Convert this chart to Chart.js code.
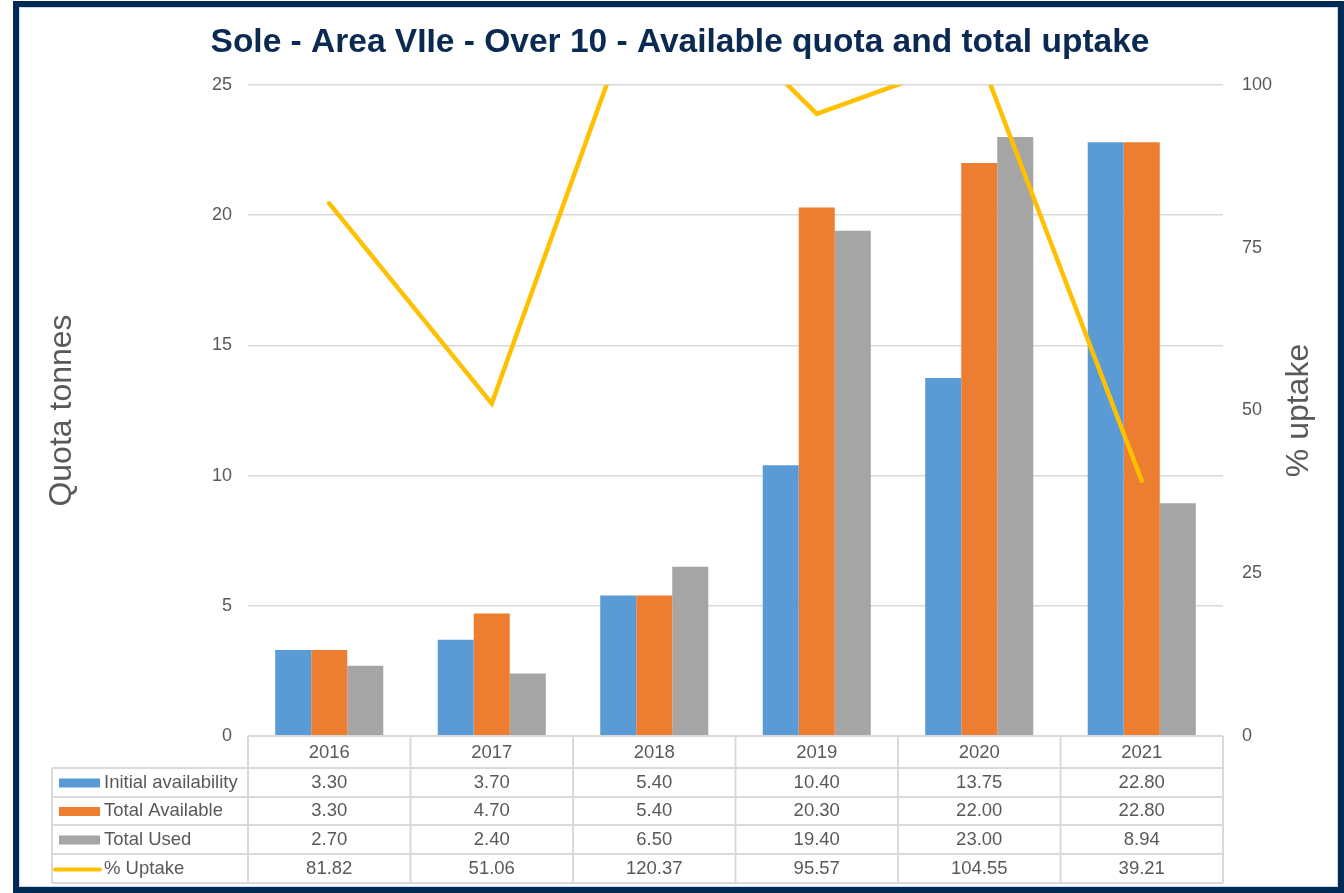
<!DOCTYPE html>
<html>
<head>
<meta charset="utf-8">
<script src="https://cdn.jsdelivr.net/npm/chart.js@4"></script>
<style>
  html, body { margin: 0; padding: 0; background: #ffffff; }
  #wrap { position: relative; width: 1344px; height: 893px; overflow: hidden; }
  #c { position: absolute; left: 0; top: 0; }
  #frame { position: absolute; left: 13px; top: 1px; width: 1319px; height: 880px;
           border: 6px solid #022a54; pointer-events: none; }
  #frame2 { position: absolute; left: 19px; top: 7px; width: 1317px; height: 878px;
           border: 1px solid #c9dcef; pointer-events: none; }
</style>
</head>
<body>
<div id="wrap">
  <canvas id="c" width="1344" height="893"></canvas>
  <div id="frame2"></div>
  <div id="frame"></div>
</div>
<script>
const titleText = 'Sole - Area VIIe - Over 10 - Available quota and total uptake';
const categories = ['2016', '2017', '2018', '2019', '2020', '2021'];
const initialAvailability = [3.30, 3.70, 5.40, 10.40, 13.75, 22.80];
const totalAvailable = [3.30, 4.70, 5.40, 20.30, 22.00, 22.80];
const totalUsed = [2.70, 2.40, 6.50, 19.40, 23.00, 8.94];
const pctUptake = [81.82, 51.06, 120.37, 95.57, 104.55, 39.21];
const seriesNames = ['Initial availability', 'Total Available', 'Total Used', '% Uptake'];
const leftTicks = [0, 5, 10, 15, 20, 25];
const rightTicks = [0, 25, 50, 75, 100];
const leftTitle = 'Quota tonnes';
const rightTitle = '% uptake';

const colors = ['#5b9bd5', '#ed7d31', '#a5a5a5', '#ffc000'];
const textGray = '#595959';
const gridGray = '#d9d9d9';
const FONT = '"Liberation Sans", Arial, sans-serif';

const tablePlugin = {
  id: 'tablePlugin',
  afterDraw(chart) {
    const ctx = chart.ctx;
    const ca = chart.chartArea;
    const xs = chart.scales.x;
    const n = categories.length;
    const colW = (ca.right - ca.left) / n;
    const labelLeft = 52;
    const rowsY = [ca.bottom, 768, 797, 825, 854, 883];
    const rowData = [initialAvailability, totalAvailable, totalUsed, pctUptake];
    ctx.save();
    ctx.strokeStyle = gridGray;
    ctx.lineWidth = 2;
    for (let r = 1; r < rowsY.length; r++) {
      ctx.beginPath();
      ctx.moveTo(labelLeft, rowsY[r]);
      ctx.lineTo(ca.right, rowsY[r]);
      ctx.stroke();
    }
    ctx.beginPath();
    ctx.moveTo(ca.left, rowsY[0]);
    ctx.lineTo(ca.right, rowsY[0]);
    ctx.stroke();
    ctx.beginPath();
    ctx.moveTo(labelLeft, rowsY[1]);
    ctx.lineTo(labelLeft, rowsY[5]);
    ctx.stroke();
    for (let i = 0; i <= n; i++) {
      const x = ca.left + i * colW;
      ctx.beginPath();
      ctx.moveTo(x, rowsY[0]);
      ctx.lineTo(x, rowsY[5]);
      ctx.stroke();
    }
    ctx.font = '18.5px ' + FONT;
    ctx.textBaseline = 'middle';
    for (let r = 0; r < 4; r++) {
      const yMid = (rowsY[r + 1] + rowsY[r + 2]) / 2;
      if (r < 3) {
        ctx.fillStyle = colors[r];
        ctx.fillRect(59, yMid - 4, 41, 9);
      } else {
        ctx.strokeStyle = colors[r];
        ctx.lineWidth = 4;
        ctx.lineCap = 'round';
        ctx.beginPath();
        ctx.moveTo(55, yMid + 1);
        ctx.lineTo(100, yMid + 1);
        ctx.stroke();
      }
      ctx.fillStyle = textGray;
      ctx.textAlign = 'left';
      ctx.fillText(seriesNames[r], 104, yMid);
      ctx.textAlign = 'center';
      for (let i = 0; i < n; i++) {
        const cx = xs.getPixelForValue(i);
        ctx.fillText(rowData[r][i].toFixed(2), cx, yMid);
      }
    }
    ctx.fillStyle = '#0a2a52';
    ctx.font = 'bold 33.5px ' + FONT;
    ctx.textAlign = 'center';
    ctx.fillText(titleText, 680, 43);
    ctx.fillStyle = textGray;
    ctx.font = '32px ' + FONT;
    ctx.save();
    ctx.translate(62, (ca.top + ca.bottom) / 2);
    ctx.rotate(-Math.PI / 2);
    ctx.fillText(leftTitle, 0, 0);
    ctx.restore();
    ctx.save();
    ctx.translate(1299, (ca.top + ca.bottom) / 2);
    ctx.rotate(-Math.PI / 2);
    ctx.fillText(rightTitle, 0, 0);
    ctx.restore();
    ctx.restore();
  }
};

new Chart(document.getElementById('c'), {
  data: {
    labels: categories,
    datasets: [
      { type: 'line', label: seriesNames[3], data: pctUptake, yAxisID: 'y1',
        borderColor: colors[3], borderWidth: 4.5, pointRadius: 0, tension: 0,
        borderCapStyle: 'round', borderJoinStyle: 'miter', clip: 0, order: 0 },
      { type: 'bar', label: seriesNames[0], data: initialAvailability, yAxisID: 'y',
        backgroundColor: colors[0], order: 1 },
      { type: 'bar', label: seriesNames[1], data: totalAvailable, yAxisID: 'y',
        backgroundColor: colors[1], order: 1 },
      { type: 'bar', label: seriesNames[2], data: totalUsed, yAxisID: 'y',
        backgroundColor: colors[2], order: 1 }
    ]
  },
  options: {
    responsive: false,
    animation: false,
    devicePixelRatio: 1,
    datasets: { bar: { categoryPercentage: 0.665, barPercentage: 1.0 } },
    layout: { padding: { top: 85, bottom: 125, left: 0, right: 0 } },
    plugins: { legend: { display: false }, title: { display: false }, tooltip: { enabled: false } },
    scales: {
      x: {
        grid: { display: false },
        border: { display: false },
        ticks: { font: { size: 18.5, family: FONT }, color: textGray, padding: -2, maxRotation: 0 },
        afterFit(s) { s.height = 32; }
      },
      y: {
        position: 'left', min: 0, max: 25,
        afterBuildTicks(s) { s.ticks = leftTicks.map(v => ({ value: v })); },
        grid: { color: gridGray, lineWidth: 1.5, drawTicks: false },
        border: { display: false },
        ticks: { font: { size: 18, family: FONT }, color: textGray, padding: 16 },
        afterFit(s) { s.width = 248; }
      },
      y1: {
        position: 'right', min: 0, max: 100,
        afterBuildTicks(s) { s.ticks = rightTicks.map(v => ({ value: v })); },
        grid: { display: false, drawTicks: false },
        border: { display: false },
        ticks: { font: { size: 18, family: FONT }, color: textGray, padding: 19 },
        afterFit(s) { s.width = 121; }
      }
    }
  },
  plugins: [tablePlugin]
});
</script>
</body>
</html>
